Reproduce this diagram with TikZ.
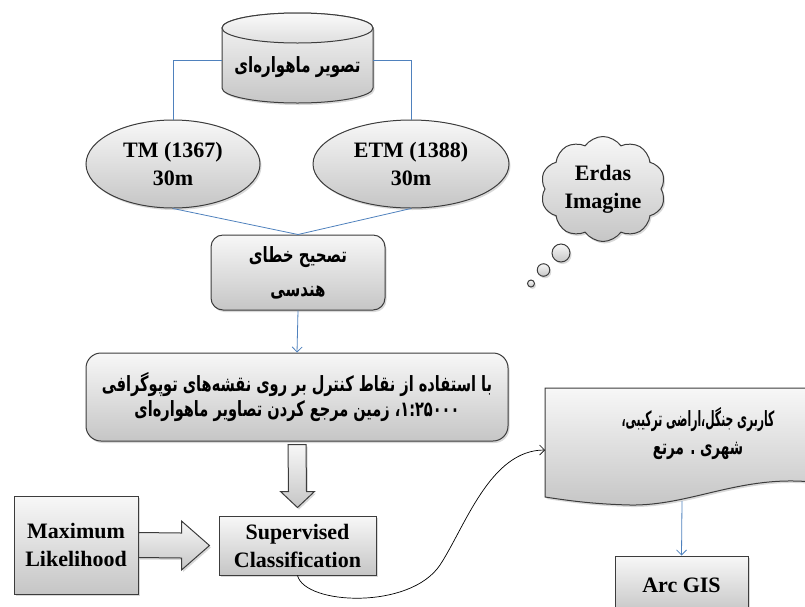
\documentclass[tikz,border=0pt]{standalone}
\usepackage{fontspec}
\usepackage{graphicx}
\setmainfont{Liberation Serif}
\newfontfamily\fafont[Script=Arabic]{DejaVu Sans}
\TeXXeTstate=1
\usetikzlibrary{arrows.meta,shapes.geometric,shapes.symbols,shadows}
\definecolor{edgegray}{RGB}{60,60,60}
\definecolor{lineblue}{RGB}{79,129,189}
% one right-to-left line, stretched upright
\newcommand{\faline}[2][1]{\scalebox{#1}[1.4]{\beginR #2\endR}}
\tikzset{
    shaded/.style={draw=edgegray, line width=1pt, top color=gray!6, bottom color=gray!45,
      drop shadow={opacity=0.3, shadow xshift=1.5pt, shadow yshift=-2pt}},
    entext/.style={font=\bfseries\fontsize{22}{28}\selectfont, align=center},
    fatext/.style={font=\fafont\bfseries\fontsize{15}{30}\selectfont, align=center},
    box/.style={shaded, rectangle, inner sep=0pt},
    roundbox/.style={box, rounded corners=12pt},
    oval/.style={shaded, ellipse, inner sep=0pt},
    link/.style={lineblue, line width=0.8pt},
    flow/.style={link, -{Straight Barb[length=5pt,width=10pt]}},
    curvelink/.style={black, line width=0.7pt, -{Straight Barb[length=5pt,width=10pt]}},
}

\begin{document}
\begin{tikzpicture}[x=1pt,y=-1pt]
\useasboundingbox (0,0) rectangle (805,606);

% satellite images (cylinder)
\path[shaded] (222,28) -- (222,88) arc[start angle=180, end angle=360, x radius=75.5pt, y radius=15pt]
    -- (373,28) arc[start angle=0, end angle=180, x radius=75.5pt, y radius=15pt] -- cycle;
\path[draw=edgegray, line width=1pt, top color=gray!4, bottom color=gray!25] (297.5,28) ellipse[x radius=75.5pt, y radius=15pt];
\node[fatext, minimum width=151pt] (sat) at (297.5,67) {\faline{تصویر ماهواره‌ای}};

\node[oval, entext, minimum width=174pt, minimum height=88pt] (tm) at (173,164) {TM (1367)\\30m};
\node[oval, entext, minimum width=196pt, minimum height=88pt] (etm) at (411,164) {ETM (1388)\\30m};

\node[roundbox, fatext, font=\fafont\bfseries\fontsize{15}{34}\selectfont,
    minimum width=174pt, minimum height=75pt] (geo) at (298,272.5)
    {\faline{تصحیح خطای}\\\faline{هندسی}};

\node[roundbox, fatext, font=\fafont\bfseries\fontsize{15}{25}\selectfont, rounded corners=15pt,
    minimum width=422pt, minimum height=88pt] (ref) at (297,397)
    {\faline[0.97]{با استفاده از نقاط کنترل بر روی نقشه‌های توپوگرافی}\\
     \faline[0.97]{\beginL ۱:۲۵۰۰۰\endL، زمین مرجع کردن تصاویر ماهواره‌ای}};

\node[box, entext, minimum width=157pt, minimum height=59pt] (sup) at (297.5,545.5) {Supervised\\Classification};
\node[box, entext, minimum width=124pt, minimum height=98pt] (ml) at (76,545) {Maximum\\Likelihood};

% cloud with bubbles
\node[shaded, cloud, cloud puffs=10, cloud puff arc=110, aspect=1.2, inner sep=0pt,
    minimum width=125pt, minimum height=105pt, entext] (erdas) at (603,189) {Erdas\\Imagine};
\node[shaded, circle, inner sep=0pt, minimum size=18pt] (puff1) at (561,253) {};
\node[shaded, circle, inner sep=0pt, minimum size=12.5pt] (puff2) at (543.5,270) {};
\node[shaded, circle, inner sep=0pt, minimum size=7pt] (puff3) at (531,283.5) {};

% land use (document shape)
\path[shaded] (545,388) -- (812,388) -- (812,482) .. controls (740,475) and (690,506) .. (630,505)
    .. controls (590,504) and (565,500) .. (545,497) -- cycle;
\node[fatext, font=\fafont\bfseries\fontsize{15}{28}\selectfont] (lu) at (698,434)
    {\faline[0.72]{کاربری جنگل،اراضی ترکیبی،}\\\faline[0.9]{شهری . مرتع}};
\coordinate (luin) at (545,450);
\coordinate (luout) at (682,501);

\node[box, entext, minimum width=133pt, minimum height=58pt] (gis) at (681.5,585) {Arc GIS};

% connectors
\draw[link] ([yshift=7pt]sat.west) -| (tm.north);
\draw[link] ([yshift=7pt]sat.east) -| (etm.north);
\draw[link] (tm.south) -- (geo.north);
\draw[link] (etm.south) -- (geo.north);
\draw[flow] (geo.south) -- (ref.north);
\draw[flow] (luout) -- (gis.north);

\path[shaded] ([xshift=-9pt,yshift=-3pt]ref.south) -- ([xshift=9pt,yshift=-3pt]ref.south)
    -- ([xshift=9pt,yshift=24pt]sup.north) -- ([xshift=17pt,yshift=24pt]sup.north)
    -- ([yshift=8pt]sup.north) -- ([xshift=-17pt,yshift=24pt]sup.north)
    -- ([xshift=-9pt,yshift=24pt]sup.north) -- cycle;
\path[shaded] ([yshift=12.5pt]ml.east) -- ([xshift=-37pt,yshift=12.5pt]sup.west)
    -- ([xshift=-37pt,yshift=24.5pt]sup.west) -- ([xshift=-9pt]sup.west)
    -- ([xshift=-37pt,yshift=-24.5pt]sup.west) -- ([xshift=-37pt,yshift=-12.5pt]sup.west)
    -- ([yshift=-12.5pt]ml.east) -- cycle;

\draw[curvelink] (sup.south) .. controls (305,605) and (410,610) .. (440,565)
    .. controls (465,527) and (490,450) .. (luin);
\end{tikzpicture}
\end{document}
